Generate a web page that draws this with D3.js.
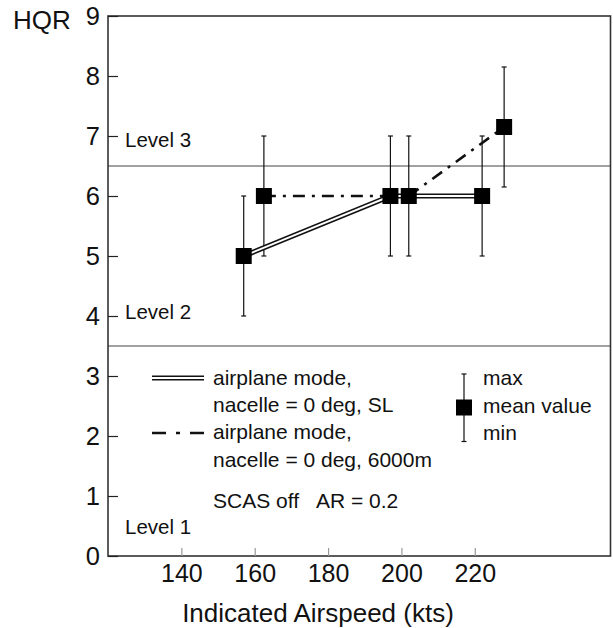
<!DOCTYPE html>
<html>
<head>
<meta charset="utf-8">
<script src="https://cdn.jsdelivr.net/npm/d3@7"></script>
<style>
body { margin: 0; background: #fff; }
text { font-family: "Liberation Sans", Arial, sans-serif; fill: #111; }
</style>
</head>
<body>
<svg id="viz" width="613" height="628"></svg>
<script>
// Data

var speedSL = [157, 197, 222],
    meanSL = [5, 6, 6],
    minSL = [4, 5, 5],
    maxSL = [6, 7, 7];

var speed6000 = [162.5, 202, 228],
    mean6000 = [6, 6, 7.15],
    min6000 = [5, 5, 6.15],
    max6000 = [7, 7, 8.15];

var levelBounds = [6.5, 3.5];
var xTickValues = [140, 160, 180, 200, 220];
var yTickValues = [0, 1, 2, 3, 4, 5, 6, 7, 8, 9];

var legendLines = ["airplane mode,", "nacelle = 0 deg, SL", "airplane mode,", "nacelle = 0 deg, 6000m"];
var errLegend = ["max", "mean value", "min"];

// Layout

var svg = d3.select("svg"),
    width = +svg.attr("width"),
    height = +svg.attr("height");

var margin = {left: 108, top: 16, right: 2.5, bottom: 72};
var x = d3.scaleLinear().domain([120, 257]).range([margin.left, width - margin.right]);
var y = d3.scaleLinear().domain([0, 9]).range([height - margin.bottom, margin.top]);

var seriesSL = speedSL.map((s, i) => ({x: s, y: meanSL[i], lo: minSL[i], hi: maxSL[i]}));
var series6000 = speed6000.map((s, i) => ({x: s, y: mean6000[i], lo: min6000[i], hi: max6000[i]}));
var allPoints = seriesSL.concat(series6000);

var g = svg.append("g");

// Level boundaries
g.selectAll("line.level")
  .data(levelBounds)
  .enter().append("line")
    .attr("class", "level")
    .attr("x1", x.range()[0]).attr("x2", x.range()[1])
    .attr("y1", d => y(d)).attr("y2", d => y(d))
    .attr("stroke", "#444").attr("stroke-width", 1.2);

g.append("text").attr("x", 125).attr("y", y(6.5) - 19).style("font-size", "20.5px").text("Level 3");
g.append("text").attr("x", 125).attr("y", y(3.5) - 27).style("font-size", "20.5px").text("Level 2");
g.append("text").attr("x", 125).attr("y", y(0) - 22).style("font-size", "20.5px").text("Level 1");

// Error bars
var eb = g.append("g").attr("stroke", "#111").attr("stroke-width", 1.2);
eb.selectAll("line.v").data(allPoints).enter().append("line")
  .attr("x1", d => x(d.x)).attr("x2", d => x(d.x))
  .attr("y1", d => y(d.lo)).attr("y2", d => y(d.hi));
eb.selectAll("line.top").data(allPoints).enter().append("line")
  .attr("x1", d => x(d.x) - 2.5).attr("x2", d => x(d.x) + 2.5)
  .attr("y1", d => y(d.hi)).attr("y2", d => y(d.hi));
eb.selectAll("line.bot").data(allPoints).enter().append("line")
  .attr("x1", d => x(d.x) - 2.5).attr("x2", d => x(d.x) + 2.5)
  .attr("y1", d => y(d.lo)).attr("y2", d => y(d.lo));

// Lines
var line = d3.line().x(d => x(d.x)).y(d => y(d.y));

g.append("path").datum(series6000)
  .attr("d", line).attr("fill", "none")
  .attr("stroke", "#111").attr("stroke-width", 2.6)
  .attr("stroke-dasharray", "12,7,3,7");

g.append("path").datum(seriesSL)
  .attr("d", line).attr("fill", "none")
  .attr("stroke", "#111").attr("stroke-width", 5.2);
g.append("path").datum(seriesSL)
  .attr("d", line).attr("fill", "none")
  .attr("stroke", "#fff").attr("stroke-width", 2);

// Mean squares
g.selectAll("rect.mean").data(allPoints).enter().append("rect")
  .attr("x", d => x(d.x) - 8).attr("y", d => y(d.y) - 8)
  .attr("width", 16).attr("height", 16).attr("fill", "#000");

// Frame
g.append("rect")
  .attr("x", x.range()[0]).attr("y", y.range()[1])
  .attr("width", x.range()[1] - x.range()[0]).attr("height", y.range()[0] - y.range()[1])
  .attr("fill", "none").attr("stroke", "#333").attr("stroke-width", 1.6);

// Axes
var yAxis = g.append("g")
  .attr("transform", "translate(" + x.range()[0] + ",0)")
  .call(d3.axisLeft(y).tickValues(yTickValues).tickSizeInner(-10).tickSizeOuter(0).tickPadding(8).tickFormat(d3.format("d")));
yAxis.select(".domain").remove();
yAxis.selectAll(".tick line").attr("stroke", "#222").attr("stroke-width", 1.2);
yAxis.selectAll(".tick text").style("font-size", "25.5px").attr("fill", "#111")
  .style("font-family", "'Liberation Sans', Arial, sans-serif");

var xAxis = g.append("g")
  .attr("transform", "translate(0," + y.range()[0] + ")")
  .call(d3.axisBottom(x).tickValues(xTickValues).tickSizeInner(-8).tickSizeOuter(0).tickPadding(8));
xAxis.select(".domain").remove();
xAxis.selectAll(".tick line").attr("stroke", "#999").attr("stroke-width", 1.2);
xAxis.selectAll(".tick text").style("font-size", "25px").attr("fill", "#111")
  .style("font-family", "'Liberation Sans', Arial, sans-serif");

svg.append("text").attr("x", 13).attr("y", 29).style("font-size", "26px").text("HQR");
svg.append("text").attr("x", 318).attr("y", 622).attr("text-anchor", "middle")
  .style("font-size", "26px").text("Indicated Airspeed (kts)");

// Legend
var lg = svg.append("g");
lg.append("line").attr("x1", 152).attr("x2", 204).attr("y1", 378).attr("y2", 378)
  .attr("stroke", "#111").attr("stroke-width", 5.2);
lg.append("line").attr("x1", 152).attr("x2", 204).attr("y1", 378).attr("y2", 378)
  .attr("stroke", "#fff").attr("stroke-width", 2);
lg.append("line").attr("x1", 152).attr("x2", 204).attr("y1", 433).attr("y2", 433)
  .attr("stroke", "#111").attr("stroke-width", 2.6).attr("stroke-dasharray", "14,10,4,10");

lg.selectAll("text.leg").data(legendLines).enter().append("text")
  .attr("x", 213).attr("y", (d, i) => 385 + i * 27.2)
  .style("font-size", "21px").text(d => d);
lg.append("text").attr("x", 213).attr("y", 508).style("font-size", "21px").text("SCAS off");
lg.append("text").attr("x", 316).attr("y", 508).style("font-size", "21px").text("AR = 0.2");

lg.append("line").attr("x1", 464).attr("x2", 464).attr("y1", 374).attr("y2", 441.5)
  .attr("stroke", "#111").attr("stroke-width", 1.2);
lg.append("line").attr("x1", 461.5).attr("x2", 466.5).attr("y1", 374).attr("y2", 374)
  .attr("stroke", "#111").attr("stroke-width", 1.2);
lg.append("line").attr("x1", 461.5).attr("x2", 466.5).attr("y1", 441.5).attr("y2", 441.5)
  .attr("stroke", "#111").attr("stroke-width", 1.2);
lg.append("rect").attr("x", 456).attr("y", 399.5).attr("width", 16).attr("height", 16).attr("fill", "#000");
lg.selectAll("text.err").data(errLegend).enter().append("text")
  .attr("x", 483).attr("y", (d, i) => 385 + i * 27.5)
  .style("font-size", "21px").text(d => d);
</script>
</body>
</html>
